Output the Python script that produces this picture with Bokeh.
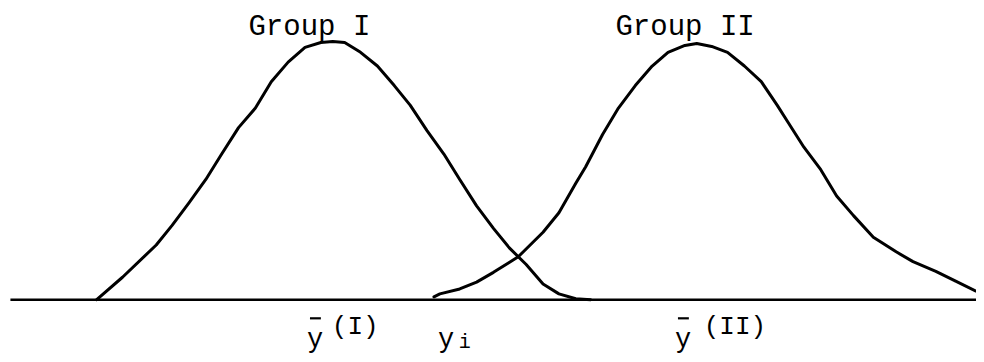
from bokeh.plotting import figure
from bokeh.models import Range1d
from bokeh.core.properties import value
from bokeh.embed import file_html
from bokeh.resources import INLINE

# Group I curve: position along the scale, height above the baseline
g1_x = [97, 123, 157, 173, 190, 207, 223, 240, 257, 273, 290, 307, 323, 335, 347,
        363, 380, 397, 413, 430, 447, 463, 480, 497, 513, 530, 547, 563, 580, 595]
g1_h = [0, 23, 56, 76, 99, 123, 149, 176, 196, 223, 243, 258, 263, 264, 263,
        253, 239, 219, 199, 173, 149, 123, 96, 73, 53, 36, 16, 6, 1, 0]

# Group II curve
g2_x = [437, 443, 463, 480, 497, 522, 547, 563, 580, 590, 607, 623, 640, 657, 673, 690,
        702, 717, 733, 750, 767, 783, 793, 810, 827, 843, 860, 880, 903, 920, 943, 963, 983]
g2_h = [3, 6, 11, 18, 28, 44, 69, 89, 119, 136, 169, 196, 219, 239, 253, 260,
        262, 259, 253, 239, 223, 199, 183, 156, 133, 106, 86, 64, 49, 39, 29, 19, 9]

# baseline extent
base_x = [10, 984]

group_names = ["Group I", "Group II"]
group_label_x = [250, 620]

# marks on the baseline: ybar(I), y_i, ybar(II)
mark_x = [309, 441, 680]
mark_main = ["y", "y", "y"]
mark_bar = [True, False, True]
mark_sup = ["(I)", "", "(II)"]
mark_sup_x = [334, 0, 709]
mark_sub = ["", "i", ""]
mark_sub_x = [0, 462, 0]

FONT = value("Liberation Mono")

p = figure(width=976, height=354, output_backend="svg", toolbar_location=None,
           x_range=Range1d(0, 984), y_range=Range1d(-56, 306),
           min_border=0, border_fill_color="white", background_fill_color="white")
p.axis.visible = False
p.grid.visible = False
p.outline_line_color = None

p.line(base_x, [0, 0], line_color="black", line_width=2.5)
p.line(g1_x, g1_h, line_color="black", line_width=3, line_join="round", line_cap="round")
p.line(g2_x, g2_h, line_color="black", line_width=3, line_join="round", line_cap="round")

p.text(x=group_label_x, y=[278, 278], text=group_names, text_font=FONT,
       text_font_size="29px", text_color="black", text_align="left",
       text_baseline="alphabetic")

p.text(x=mark_x, y=[-41] * 3, text=mark_main, text_font=FONT, text_font_size="27px",
       text_color="black", text_align="left", text_baseline="alphabetic")

bar_x = [x for x, b in zip(mark_x, mark_bar) if b]
p.segment(x0=[x + 3 for x in bar_x], x1=[x + 14 for x in bar_x],
          y0=[-19] * len(bar_x), y1=[-19] * len(bar_x), line_color="black", line_width=2.2)

sup_idx = [i for i, s in enumerate(mark_sup) if s]
p.text(x=[mark_sup_x[i] for i in sup_idx], y=[-28] * len(sup_idx),
       text=[mark_sup[i] for i in sup_idx], text_font=FONT,
       text_font_size="26px", text_color="black", text_align="left", text_baseline="alphabetic")

sub_idx = [i for i, s in enumerate(mark_sub) if s]
p.text(x=[mark_sub_x[i] for i in sub_idx], y=[-44] * len(sub_idx),
       text=[mark_sub[i] for i in sub_idx], text_font=FONT,
       text_font_size="20px", text_color="black", text_align="left", text_baseline="alphabetic")

open("out.html", "w").write(file_html(p, INLINE))
